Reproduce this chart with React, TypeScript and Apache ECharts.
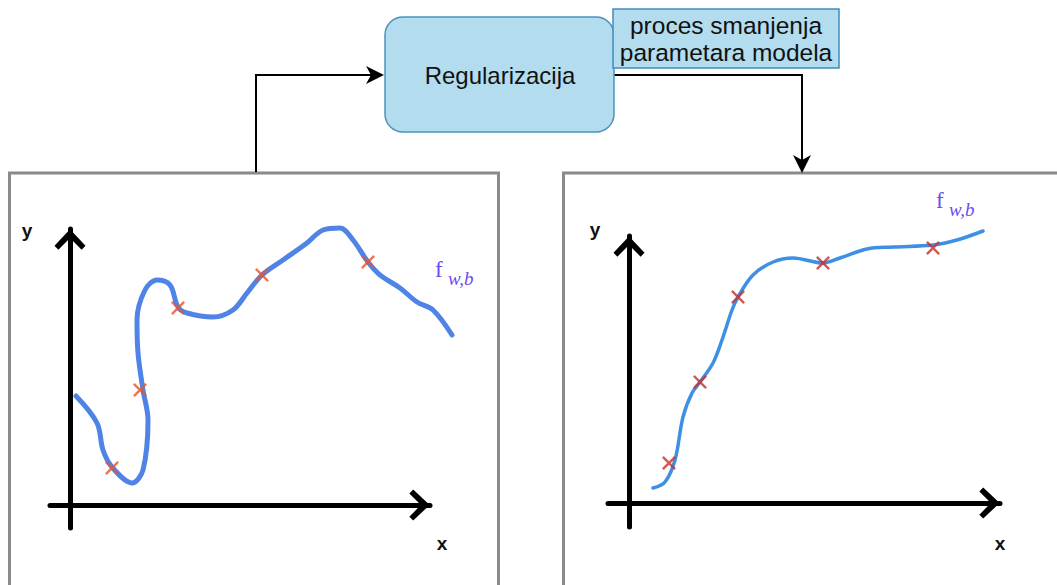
import React, { useEffect, useRef } from "react";
import * as echarts from "echarts";

// Overfitted curve (left panel), in axis units
const leftCurve: [number, number][] = [
  [0.3, 5.45], [1.35, 4.1], [1.65, 2.75], [2.1, 1.9], [3.1, 1.1], [3.65, 1.75],
  [3.9, 4.25], [3.65, 5.75], [3.4, 7.6], [3.35, 9.25], [3.75, 10.75], [4.35, 11.25],
  [5.0, 11.0], [5.4, 9.9], [5.85, 9.6], [7.15, 9.4], [8.15, 9.75], [8.85, 10.6],
  [9.6, 11.5], [10.65, 12.25], [11.85, 13.1], [12.65, 13.75], [13.5, 13.85],
  [14.15, 13.25], [14.9, 12.15], [15.5, 11.5], [16.5, 10.85], [17.35, 10.15],
  [18.15, 9.75], [19.1, 8.5],
];
const leftPoints: [number, number][] = [
  [2.1, 1.85], [3.5, 5.75], [5.4, 9.85], [9.6, 11.5], [14.9, 12.15],
];

// Regularized curve (right panel)
const rightCurve: [number, number][] = [
  [1.2, 0.75], [1.8, 1.05], [2.3, 2.15], [2.7, 4.3], [3.15, 5.5], [3.55, 6.05],
  [4.2, 7.0], [4.65, 8.15], [5.15, 9.65], [5.45, 10.3], [6.2, 11.4], [7.2, 12.05],
  [8.2, 12.25], [9.7, 12.0], [10.55, 12.25], [11.9, 12.7], [13.2, 12.8],
  [15.2, 12.9], [16.4, 13.15], [17.7, 13.6],
];
const rightPoints: [number, number][] = [
  [2.0, 2.0], [3.55, 6.05], [5.45, 10.3], [9.7, 12.0], [15.2, 12.75],
];

// visible axes ranges, and a wider hidden range (same scale) holding the left curve
const leftRange = { xMin: -1, xMax: 18, yMin: -1.15, yMax: 13.8 };
const leftDataRange = { xMin: -1, xMax: 20, yMin: -1.15, yMax: 14.8 };
const rightRange = { xMin: -1.05, xMax: 18.55, yMin: -1.2, yMax: 13.35 };

const boxTitle = "Regularizacija";
const noteLines = ["proces smanjenja", "parametara modela"];
const axisNames = ["x", "y"];
const fnName = ["f", "w,b"];

const chevron = "path://M16,0 L32,17 L28,21 L16,9 L4,21 L0,17 Z";
const crossMark =
  "path://M2,0 L8,6 L14,0 L16,2 L10,8 L16,14 L14,16 L8,10 L2,16 L0,14 L6,8 L0,2 Z";

function axis(gridIndex: number, min: number, max: number, visible = true) {
  return {
    type: "value",
    gridIndex,
    min,
    max,
    show: visible,
    axisLine: {
      show: visible,
      onZero: true,
      symbol: ["none", chevron],
      symbolSize: [31, 21],
      symbolOffset: [0, -10.5],
      lineStyle: { color: "#000", width: 5 },
    },
    axisTick: { show: false },
    axisLabel: { show: false },
    splitLine: { show: false },
  };
}

export default function App() {
  const ref = useRef<HTMLDivElement>(null);
  useEffect(() => {
    if (!ref.current) return;
    const chart = echarts.init(ref.current, undefined, { renderer: "svg" });
    const font = "'Liberation Sans', Arial, sans-serif";
    const serif = "'Liberation Serif', 'DejaVu Serif', serif";
    const fColor = "#6a4cf0";
    const txt = (text: string, x: number, y: number, size: number, extra: any = {}) => ({
      type: "text",
      x,
      y,
      z: 10,
      style: {
        text,
        fill: extra.fill || "#111",
        font: `${extra.fontStyle || "normal"} ${extra.weight || "normal"} ${size}px ${extra.family || font}`,
        align: extra.align || "center",
        verticalAlign: "middle",
      },
    });
    const unit = 20;
    const option: any = {
      animation: false,
      backgroundColor: "#fff",
      grid: [
        { left: 50, top: 229, width: 380, height: 299, containLabel: false },
        { left: 608, top: 236, width: 392, height: 291, containLabel: false },
        {
          left: 50,
          top: 505 - leftDataRange.yMax * unit,
          width: (leftDataRange.xMax - leftDataRange.xMin) * unit,
          height: (leftDataRange.yMax - leftDataRange.yMin) * unit,
          containLabel: false,
        },
      ],
      xAxis: [
        axis(0, leftRange.xMin, leftRange.xMax),
        axis(1, rightRange.xMin, rightRange.xMax),
        axis(2, leftDataRange.xMin, leftDataRange.xMax, false),
      ],
      yAxis: [
        axis(0, leftRange.yMin, leftRange.yMax),
        axis(1, rightRange.yMin, rightRange.yMax),
        axis(2, leftDataRange.yMin, leftDataRange.yMax, false),
      ],
      series: [
        {
          type: "line",
          xAxisIndex: 2,
          yAxisIndex: 2,
          data: leftCurve,
          smooth: 0.35,
          showSymbol: false,
          clip: false,
          lineStyle: { color: "#4f84e6", width: 5, cap: "round", join: "round" },
          z: 3,
        },
        {
          type: "scatter",
          xAxisIndex: 0,
          yAxisIndex: 0,
          data: leftPoints,
          symbol: crossMark,
          symbolSize: 14,
          itemStyle: { color: "#e8552a" },
          z: 4,
        },
        {
          type: "line",
          xAxisIndex: 1,
          yAxisIndex: 1,
          data: rightCurve,
          smooth: 0.35,
          showSymbol: false,
          clip: false,
          lineStyle: { color: "#3d90e4", width: 3.5, cap: "round", join: "round" },
          z: 3,
        },
        {
          type: "scatter",
          xAxisIndex: 1,
          yAxisIndex: 1,
          data: rightPoints,
          symbol: crossMark,
          symbolSize: 14,
          itemStyle: { color: "#c8302c" },
          z: 4,
        },
      ],
      graphic: [
        // panels
        { type: "rect", z: -1, shape: { x: 9.5, y: 173, width: 489, height: 430 }, style: { fill: "transparent", stroke: "#8a8a8a", lineWidth: 3 } },
        { type: "rect", z: -1, shape: { x: 563.5, y: 173, width: 500, height: 430 }, style: { fill: "transparent", stroke: "#8a8a8a", lineWidth: 3 } },
        // connectors
        { type: "polyline", shape: { points: [[256, 172], [256, 75], [372, 75]] }, style: { stroke: "#000", lineWidth: 2, fill: "none" } },
        { type: "polygon", shape: { points: [[384, 75], [366, 66], [371, 75], [366, 84]] }, style: { fill: "#000" } },
        { type: "polyline", shape: { points: [[614, 75], [802, 75], [802, 160]] }, style: { stroke: "#000", lineWidth: 2, fill: "none" } },
        { type: "polygon", shape: { points: [[802, 173], [793, 155], [802, 160], [811, 155]] }, style: { fill: "#000" } },
        // boxes
        { type: "rect", shape: { x: 385, y: 17, width: 229, height: 115, r: 18 }, style: { fill: "#b3dcee", stroke: "#4d92bd", lineWidth: 1.5 } },
        { type: "rect", z: 5, shape: { x: 613, y: 9, width: 226, height: 59 }, style: { fill: "#b3dcee", stroke: "#3f8cbf", lineWidth: 1.5 } },
        txt(boxTitle, 500, 75, 24),
        txt(noteLines[0], 726, 25, 24.5),
        txt(noteLines[1], 726, 52, 24.5),
        // axis names
        txt(axisNames[1], 27, 230, 19, { weight: "bold" }),
        txt(axisNames[0], 442, 543, 19, { weight: "bold" }),
        txt(axisNames[1], 595, 229, 19, { weight: "bold" }),
        txt(axisNames[0], 1000, 543, 19, { weight: "bold" }),
        // f_{w,b}
        txt(fnName[0], 435, 269, 23, { family: serif, align: "left", fill: fColor }),
        txt(fnName[1], 448, 278, 19, { family: serif, align: "left", fill: fColor, fontStyle: "italic" }),
        txt(fnName[0], 936, 200, 23, { family: serif, align: "left", fill: fColor }),
        txt(fnName[1], 949, 209, 19, { family: serif, align: "left", fill: fColor, fontStyle: "italic" }),
      ],
    };
    chart.setOption(option);
    return () => chart.dispose();
  }, []);
  return (
    <div
      ref={ref}
      style={{ position: "fixed", left: 0, top: 0, width: 1057, height: 585, background: "#fff" }}
    />
  );
}
